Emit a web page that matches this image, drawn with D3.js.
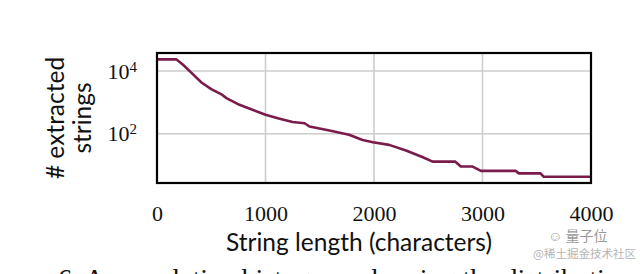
<!DOCTYPE html>
<html lang="en">
  <head>
    <meta charset="UTF-8" />
    <title>Extracted strings by length</title>
    <script src="https://d3js.org/d3.v7.min.js"></script>
    <style>
      body { margin: 0; background: #fff; }
      svg { display: block; }
    </style>
  </head>
  <body>
    <svg width="640" height="274"></svg>
    <script>
      // cumulative count of extracted strings with length >= x
      const lengths = [0, 180, 240, 330, 410, 500, 590, 640, 760, 880, 1000, 1130, 1250, 1360, 1405,
        1590, 1770, 1895, 1990, 2140, 2295, 2445, 2540, 2750, 2800, 2905, 2985, 3305, 3335, 3535, 3565, 4000];
      const counts = [23500, 23500, 15900, 8000, 4300, 2650, 1840, 1370, 835, 580, 400, 300, 235, 215, 170,
        126, 92, 63, 53, 44, 29, 18, 12.8, 12.8, 9, 9, 6.5, 6.5, 5.4, 5.4, 4.2, 4.2];

      const xTicks = [0, 1000, 2000, 3000, 4000];
      const yTicks = [100, 10000];

      const svg = d3.select("svg");
      const plotLeft = 157, plotRight = 591, plotTop = 53, plotBottom = 183;

      const x = d3.scaleLinear().domain([0, 4000]).range([plotLeft, plotRight]);
      const y = d3.scaleLog().domain([Math.pow(10, 0.426), Math.pow(10, 4.576)]).range([plotBottom, plotTop]);

      // grid
      svg.append("g")
        .selectAll("line")
        .data(xTicks.slice(1, -1))
        .enter()
        .append("line")
        .attr("x1", (d) => x(d)).attr("x2", (d) => x(d))
        .attr("y1", plotTop).attr("y2", plotBottom)
        .style("stroke", "#cccccc")
        .style("stroke-width", 1.6);

      svg.append("g")
        .selectAll("line")
        .data(yTicks)
        .enter()
        .append("line")
        .attr("x1", plotLeft).attr("x2", plotRight)
        .attr("y1", (d) => y(d)).attr("y2", (d) => y(d))
        .style("stroke", "#cccccc")
        .style("stroke-width", 1.6);

      // data line
      const line = d3.line()
        .x((d, i) => x(lengths[i]))
        .y((d) => y(d));

      svg.append("path")
        .datum(counts)
        .attr("d", line)
        .style("fill", "none")
        .style("stroke", "#7a1c4b")
        .style("stroke-width", 2.6)
        .style("stroke-linejoin", "round");

      // frame
      svg.append("rect")
        .attr("x", plotLeft).attr("y", plotTop)
        .attr("width", plotRight - plotLeft).attr("height", plotBottom - plotTop)
        .style("fill", "none")
        .style("stroke", "#000")
        .style("stroke-width", 2.2);

      // x axis
      const xAxis = svg.append("g")
        .attr("transform", `translate(0,${plotBottom})`)
        .call(d3.axisBottom(x).tickValues(xTicks).tickSize(0).tickPadding(22).tickFormat(d3.format("d")));
      xAxis.select(".domain").remove();
      xAxis.selectAll("text")
        .style("font-family", "Liberation Serif, serif")
        .style("font-size", "22px")
        .style("fill", "#111");

      // y axis, labels as 10^n
      const yAxis = svg.append("g")
        .attr("transform", `translate(${plotLeft},0)`)
        .call(d3.axisLeft(y).tickValues(yTicks).tickSize(0).tickPadding(20));
      yAxis.select(".domain").remove();
      yAxis.selectAll("text")
        .text(null)
        .style("font-family", "Liberation Serif, serif")
        .style("font-size", "22px")
        .style("fill", "#111")
        .each(function (d) {
          const t = d3.select(this);
          t.append("tspan").text("10");
          t.append("tspan")
            .attr("dy", "-0.45em")
            .style("font-size", "15px")
            .text(Math.round(Math.log10(d)));
        });

      // axis titles
      svg.append("text")
        .attr("x", 359)
        .attr("y", 251)
        .attr("text-anchor", "middle")
        .style("font-family", "Lato, sans-serif")
        .style("font-size", "24.5px")
        .style("fill", "#111")
        .text("String length (characters)");

      const yTitle = svg.append("text")
        .attr("transform", `translate(0,${(plotTop + plotBottom) / 2}) rotate(-90)`)
        .attr("text-anchor", "middle")
        .style("font-family", "Lato, sans-serif")
        .style("font-size", "24.5px")
        .style("fill", "#111");
      yTitle.append("tspan").attr("x", 0).attr("y", 64).text("# extracted");
      yTitle.append("tspan").attr("x", 0).attr("y", 91).text("strings");

      // caption cut off at the bottom of the screenshot
      svg.append("text")
        .attr("x", 58)
        .attr("y", 288)
        .style("font-family", "Liberation Serif, serif")
        .style("font-size", "28px")
        .style("fill", "#111")
        .text("6. A cumulative histogram showing the distribution");

      // watermark
      svg.append("text")
        .attr("x", 548)
        .attr("y", 241)
        .style("font-family", "Noto Sans CJK SC, sans-serif")
        .style("font-size", "14px")
        .style("fill", "#9a9a9a")
        .text("☺ 量子位");
      svg.append("text")
        .attr("x", 533)
        .attr("y", 258)
        .style("font-family", "Noto Sans CJK SC, sans-serif")
        .style("font-size", "11.5px")
        .style("fill", "#b5b5b5")
        .text("@稀土掘金技术社区");
    </script>
  </body>
</html>
